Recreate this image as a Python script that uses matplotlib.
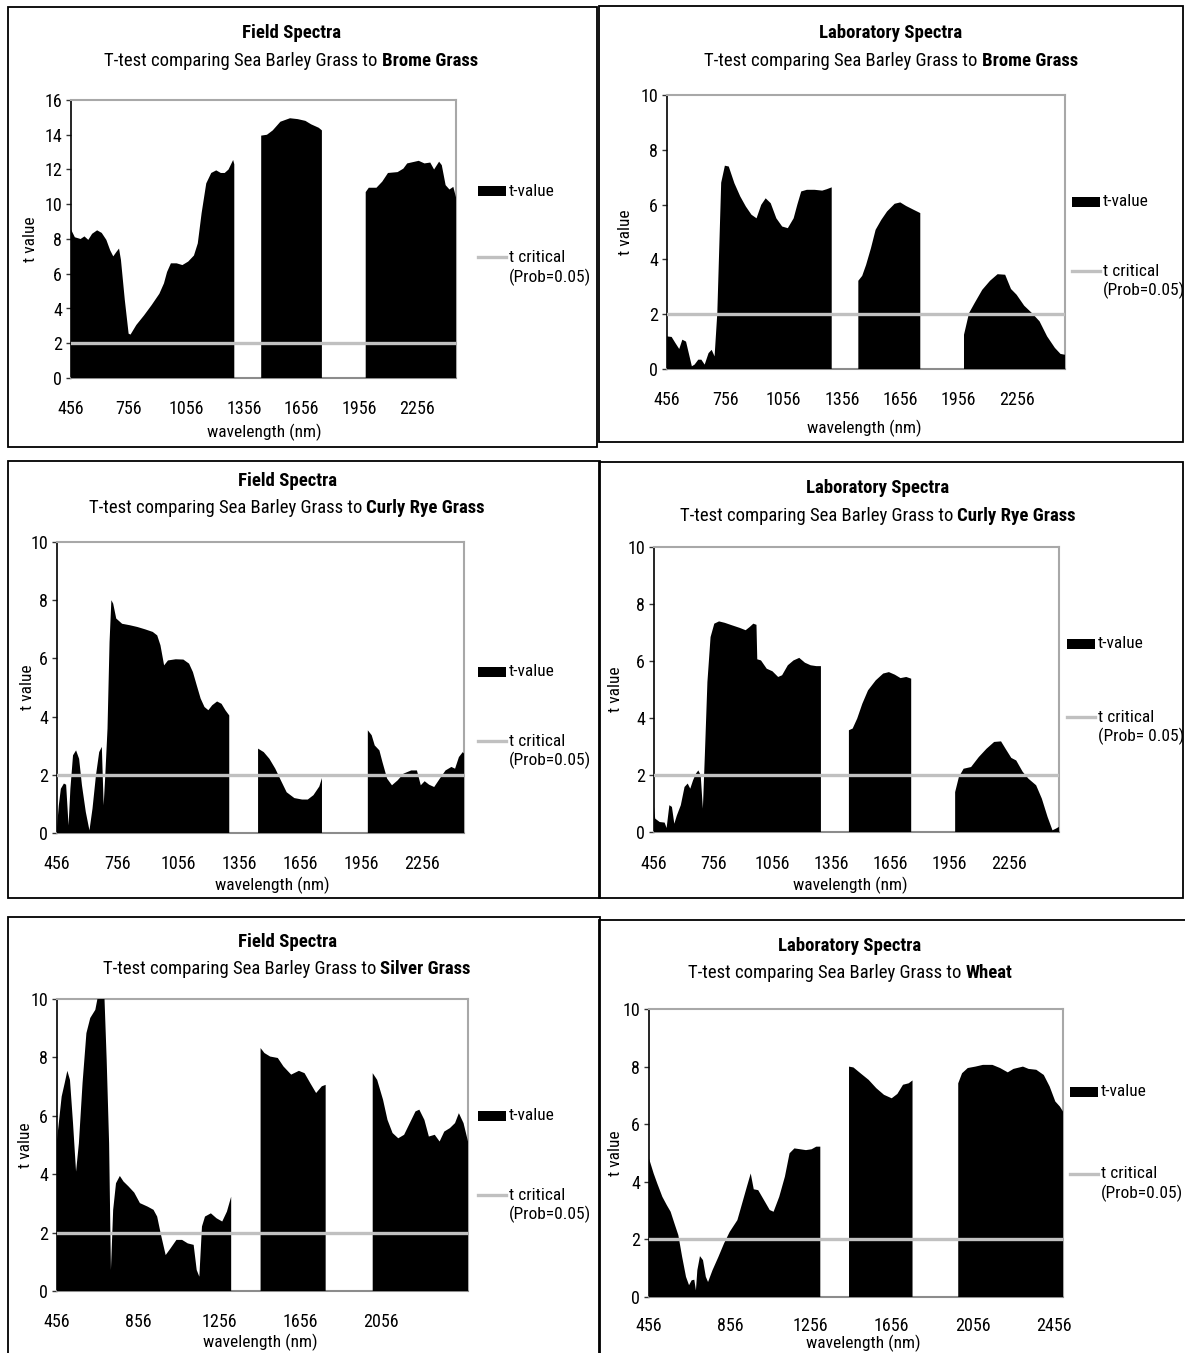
import numpy as np
import matplotlib
matplotlib.use("Agg")
import matplotlib.pyplot as plt
from matplotlib.patches import Rectangle
from matplotlib.lines import Line2D
from matplotlib import font_manager

names = {f.name for f in font_manager.fontManager.ttflist}
fams = [n for n in ['Liberation Sans Narrow', 'DejaVu Sans Condensed', 'Roboto Condensed'] if n in names]
plt.rcParams['font.family'] = fams + ['Liberation Sans', 'DejaVu Sans']

# ---- data: wavelength (nm) and t values, None marks the water-band gaps ----
field_brome_nm = [456, 476, 506, 526, 546, 566, 592, 616, 640, 660, 676, 692, 706, 716, 736, 756, 766, 796,
                  836, 876, 916, 940, 956, 976, 1006, 1036, 1066, 1096, 1116, 1136, 1160, 1186, 1212, 1236,
                  1256, 1276, 1300, 1306, 1376, 1446, 1476, 1506, 1546, 1596, 1636, 1676, 1706, 1746, 1762,
                  1876, 1990, 2006, 2046, 2076, 2106, 2156, 2186, 2206, 2246, 2266, 2296, 2326, 2346, 2372,
                  2386, 2406, 2426, 2446, 2460]
field_brome_t = [8.55, 8.1, 8.0, 8.15, 7.95, 8.3, 8.5, 8.35, 7.95, 7.35, 7.0, 7.25, 7.45, 6.8, 4.5, 2.55, 2.5, 3.05,
                 3.6, 4.2, 4.85, 5.45, 6.1, 6.6, 6.6, 6.5, 6.7, 7.05, 7.75, 9.5, 11.2, 11.8, 11.95, 11.8,
                 11.8, 12.0, 12.55, 12.3, None, 13.95, 14.0, 14.25, 14.75, 14.95, 14.9, 14.8, 14.6, 14.4, 14.25,
                 None, 10.7, 10.95, 10.95, 11.3, 11.8, 11.85, 12.05, 12.35, 12.45, 12.5, 12.35, 12.4, 12.0, 12.45,
                 12.25, 11.1, 10.85, 11.0, 10.4]

lab_brome_nm = [456, 480, 499, 519, 535, 554, 568, 584, 598, 617, 633, 650, 670, 686, 701, 715, 735, 754, 774,
                803, 833, 862, 891, 917, 941, 964, 990, 1019, 1049, 1078, 1108, 1127, 1147, 1176, 1216, 1255,
                1278, 1304, 1372, 1441, 1461, 1481, 1506, 1530, 1559, 1589, 1628, 1657, 1687, 1726, 1760,
                1872, 1985, 2011, 2040, 2079, 2119, 2158, 2197, 2227, 2256, 2295, 2335, 2374, 2413, 2453,
                2482, 2505]
lab_brome_t = [1.19, 1.17, 0.95, 0.73, 1.07, 1.0, 0.58, 0.1, 0.16, 0.34, 0.34, 0.16, 0.58, 0.7, 0.46, 2.04, 6.8,
               7.42, 7.39, 6.78, 6.3, 5.93, 5.63, 5.5, 5.99, 6.23, 6.05, 5.5, 5.2, 5.14, 5.5, 6.0, 6.48, 6.54,
               6.54, 6.51, 6.56, 6.63, None, 3.22, 3.4, 3.8, 4.41, 5.08, 5.44, 5.75, 6.03, 6.08, 5.95, 5.81,
               5.69, None, 1.25, 2.04, 2.41, 2.89, 3.22, 3.46, 3.44, 2.92, 2.71, 2.31, 2.04, 1.74, 1.19, 0.77,
               0.55, 0.52]

field_curly_nm = [456, 465, 475, 490, 501, 513, 522, 535, 550, 565, 579, 598, 616, 631, 648, 664, 677, 686, 694,
                  705, 715, 724, 733, 748, 777, 815, 852, 890, 928, 950, 966, 984, 1003, 1041, 1079, 1107, 1126,
                  1145, 1164, 1183, 1202, 1221, 1245, 1267, 1286, 1305, 1376, 1447, 1475, 1503, 1532, 1560,
                  1588, 1626, 1664, 1692, 1720, 1749, 1762, 1875, 1988, 2007, 2022, 2045, 2060, 2083, 2107,
                  2135, 2164, 2202, 2230, 2249, 2268, 2290, 2315, 2343, 2371, 2400, 2418, 2437, 2456, 2462]
field_curly_t = [0.2, 0.95, 1.52, 1.7, 1.66, 0.26, 1.52, 2.67, 2.84, 2.55, 1.64, 0.72, 0.09, 0.84, 1.98, 2.78, 2.96,
                 0.95, 1.98, 3.59, 6.56, 8.0, 7.88, 7.37, 7.19, 7.14, 7.08, 7.0, 6.91, 6.79, 6.45, 5.76, 5.93,
                 5.97, 5.96, 5.82, 5.53, 5.07, 4.62, 4.33, 4.22, 4.39, 4.52, 4.44, 4.22, 4.04, None, 2.9, 2.78,
                 2.55, 2.21, 1.8, 1.4, 1.2, 1.15, 1.15, 1.3, 1.6, 1.89, None, 3.53, 3.36, 3.01, 2.84, 2.44,
                 1.87, 1.64, 1.81, 2.04, 2.15, 2.15, 1.64, 1.78, 1.66, 1.58, 1.87, 2.15, 2.27, 2.21, 2.61, 2.78,
                 2.73]

lab_curly_nm = [456, 462, 485, 510, 520, 534, 547, 559, 572, 592, 611, 627, 640, 654, 669, 681, 693, 704, 714,
                727, 743, 762, 786, 815, 853, 892, 921, 941, 960, 976, 980, 999, 1028, 1057, 1086, 1106, 1135,
                1164, 1193, 1222, 1251, 1280, 1303, 1374, 1445, 1464, 1487, 1513, 1542, 1581, 1619, 1648,
                1678, 1707, 1736, 1761, 1872, 1984, 2003, 2027, 2065, 2104, 2143, 2182, 2217, 2240, 2269,
                2294, 2327, 2356, 2395, 2424, 2453, 2478, 2496, 2511]
lab_curly_t = [0.88, 0.47, 0.35, 0.33, 0.14, 0.94, 0.88, 0.29, 0.58, 0.94, 1.58, 1.7, 1.52, 1.81, 2.05, 2.16, 1.99,
               0.82, 2.69, 5.26, 6.84, 7.31, 7.39, 7.34, 7.25, 7.16, 7.08, 7.19, 7.31, 7.27, 6.06, 6.02, 5.73,
               5.64, 5.44, 5.5, 5.85, 6.02, 6.11, 5.94, 5.85, 5.82, 5.82, None, 3.57, 3.63, 3.98, 4.5, 4.97,
               5.32, 5.56, 5.61, 5.52, 5.4, 5.44, 5.38, None, 1.4, 1.93, 2.22, 2.28, 2.63, 2.92, 3.16, 3.18,
               2.92, 2.6, 2.51, 2.11, 1.87, 1.64, 1.17, 0.53, 0.06, 0.12, 0.18]

field_silver_nm = [456, 479, 494, 507, 520, 535, 550, 564, 582, 601, 620, 645, 658, 677, 690, 701, 713, 722, 733,
                   747, 766, 784, 809, 837, 865, 903, 932, 950, 969, 992, 1016, 1045, 1073, 1101, 1130, 1145,
                   1158, 1171, 1186, 1215, 1243, 1271, 1294, 1315, 1388, 1460, 1479, 1507, 1545, 1573, 1611,
                   1649, 1677, 1705, 1734, 1762, 1781, 1897, 2013, 2035, 2064, 2086, 2111, 2139, 2168, 2196,
                   2224, 2243, 2268, 2290, 2319, 2343, 2366, 2394, 2419, 2438, 2461, 2483]
field_silver_t = [5.18, 6.66, 7.12, 7.54, 7.23, 5.75, 4.09, 5.06, 7.12, 8.83, 9.35, 9.63, 10.1, 10.07, 10.07, 7.92,
                  5.06, 0.72, 2.78, 3.69, 3.94, 3.75, 3.58, 3.37, 3.01, 2.89, 2.78, 2.55, 1.92, 1.23, 1.46, 1.75,
                  1.75, 1.63, 1.58, 0.72, 0.49, 2.21, 2.55, 2.66, 2.49, 2.38, 2.72, 3.23, None, 8.32, 8.15, 8.03,
                  7.98, 7.69, 7.41, 7.54, 7.46, 7.12, 6.78, 7.01, 7.06, None, 7.46, 7.23, 6.55, 5.86, 5.41, 5.23,
                  5.35, 5.75, 6.15, 6.21, 5.86, 5.29, 5.35, 5.12, 5.46, 5.58, 5.75, 6.09, 5.75, 5.12]

lab_wheat_nm = [456, 479, 497, 522, 544, 563, 582, 601, 620, 639, 654, 667, 680, 688, 695, 708, 723, 737, 748,
                770, 799, 827, 855, 893, 921, 940, 959, 974, 996, 1025, 1053, 1072, 1100, 1128, 1151, 1175,
                1204, 1232, 1260, 1283, 1303, 1374, 1445, 1467, 1505, 1542, 1580, 1618, 1656, 1684, 1712,
                1740, 1759, 1872, 1985, 2004, 2032, 2070, 2107, 2154, 2192, 2230, 2258, 2305, 2333, 2371,
                2408, 2437, 2465, 2488, 2503]
lab_wheat_t = [4.81, 4.29, 3.94, 3.48, 3.19, 2.96, 2.55, 2.15, 1.39, 0.7, 0.41, 0.58, 0.6, 0.23, 0.93, 1.42, 1.28,
               0.7, 0.52, 0.93, 1.39, 1.86, 2.26, 2.67, 3.36, 3.83, 4.29, 3.74, 3.71, 3.36, 3.02, 2.96, 3.48,
               4.18, 4.99, 5.16, 5.13, 5.1, 5.13, 5.22, 5.22, None, 8.0, 7.97, 7.75, 7.54, 7.25, 7.02, 6.9,
               7.05, 7.37, 7.42, 7.52, None, 7.42, 7.77, 7.95, 8.0, 8.06, 8.06, 7.95, 7.8, 7.92, 8.0, 7.92,
               7.89, 7.71, 7.31, 6.79, 6.61, 6.44]

t_critical = 2.0

ticks_300 = [456, 756, 1056, 1356, 1656, 1956, 2256]
ticks_400_field = [456, 856, 1256, 1656, 2056]
ticks_400_lab = [456, 856, 1256, 1656, 2056, 2456]
yticks_16 = [0, 2, 4, 6, 8, 10, 12, 14, 16]
yticks_10 = [0, 2, 4, 6, 8, 10]

# ---- layout in pixels of the 1185x1353 canvas ----
W, H = 1185, 1353


def fx(x):
    return x / W


def fy(y):
    return 1 - y / H


panels = [
    dict(nm=field_brome_nm, t=field_brome_t, title="Field Spectra", species="Brome Grass",
         xticks=ticks_300, yticks=yticks_16, prob="(Prob=0.05)",
         box=(8, 7, 597, 447), cx=291, title_y=33, sub_y=61, ax=(71, 100, 456, 378),
         leg_x=478, val_y=191, crit_y=257, prob_y=277, xtick_y=407, xlabel=(264, 432), ylabel_x=31),
    dict(nm=lab_brome_nm, t=lab_brome_t, title="Laboratory Spectra", species="Brome Grass",
         xticks=ticks_300, yticks=yticks_10, prob="(Prob=0.05)",
         box=(599, 6, 1183, 442), cx=891, title_y=33, sub_y=61, ax=(667, 95, 1065, 369),
         leg_x=1072, val_y=202, crit_y=271, prob_y=290, xtick_y=398, xlabel=(864, 428), ylabel_x=625),
    dict(nm=field_curly_nm, t=field_curly_t, title="Field Spectra", species="Curly Rye Grass",
         xticks=ticks_300, yticks=yticks_10, prob="(Prob=0.05)",
         box=(8, 461, 600, 898), cx=287, title_y=481, sub_y=508, ax=(57, 542, 464, 833),
         leg_x=478, val_y=672, crit_y=741, prob_y=760, xtick_y=862, xlabel=(272, 885), ylabel_x=27),
    dict(nm=lab_curly_nm, t=lab_curly_t, title="Laboratory Spectra", species="Curly Rye Grass",
         xticks=ticks_300, yticks=yticks_10, prob="(Prob= 0.05)",
         box=(599, 462, 1183, 898), cx=878, title_y=488, sub_y=516, ax=(654, 547, 1059, 832),
         leg_x=1067, val_y=644, crit_y=717, prob_y=736, xtick_y=862, xlabel=(850, 885), ylabel_x=616),
    dict(nm=field_silver_nm, t=field_silver_t, title="Field Spectra", species="Silver Grass",
         xticks=ticks_400_field, yticks=yticks_10, prob="(Prob=0.05)",
         box=(8, 917, 600, 1365), cx=287, title_y=942, sub_y=969, ax=(57, 999, 468, 1291),
         leg_x=478, val_y=1116, crit_y=1195, prob_y=1214, xtick_y=1320, xlabel=(260, 1342), ylabel_x=25),
    dict(nm=lab_wheat_nm, t=lab_wheat_t, title="Laboratory Spectra", species="Wheat",
         xticks=ticks_400_lab, yticks=yticks_10, prob="(Prob=0.05)",
         box=(599, 920, 1190, 1365), cx=850, title_y=946, sub_y=973, ax=(649, 1009, 1063, 1297),
         leg_x=1070, val_y=1092, crit_y=1174, prob_y=1193, xtick_y=1324, xlabel=(863, 1343), ylabel_x=616),
]

FS = 12.5        # legend and axis titles
FS_TICK = 13
FS_TITLE = 13.5
CRIT_COLOR = "#c0c0c0"

fig = plt.figure(figsize=(W / 100, H / 100), dpi=100)
fig.patch.set_facecolor("white")
renderer = fig.canvas.get_renderer()

for p in panels:
    # outer frame of each chart
    x0, y0, x1, y1 = p["box"]
    fig.add_artist(Rectangle((fx(x0), fy(y1)), (x1 - x0) / W, (y1 - y0) / H,
                             transform=fig.transFigure, fill=False, edgecolor="black", lw=1.3))

    l, t, r, b = p["ax"]
    ax = fig.add_axes([fx(l), fy(b), (r - l) / W, (b - t) / H])
    nm = np.array(p["nm"], dtype=float)
    tv = np.array(p["t"], dtype=float)
    ax.fill_between(nm, 0, tv, color="black", lw=0, zorder=3)
    ax.axhline(t_critical, color=CRIT_COLOR, lw=2.4, zorder=4)

    ax.set_xlim(nm[0], nm[-1])
    ax.set_ylim(p["yticks"][0], p["yticks"][-1])
    ax.set_xticks(p["xticks"])
    ax.set_xticklabels([str(v) for v in p["xticks"]])
    ax.set_yticks(p["yticks"])
    ax.tick_params(axis="x", length=0, labelsize=FS_TICK, pad=(p["xtick_y"] - b - 7) * 0.72)
    ax.tick_params(axis="y", length=3.5, width=1, labelsize=FS_TICK, pad=3, color="#333333")

    ax.spines["left"].set_color("black")
    ax.spines["left"].set_linewidth(1.2)
    ax.spines["bottom"].set_color("#8c8c8c")
    ax.spines["bottom"].set_linewidth(1.5)
    for s in ("top", "right"):
        ax.spines[s].set_color("#a8a8a8")
        ax.spines[s].set_linewidth(1.5)

    # axis titles
    fig.text(fx(p["xlabel"][0]), fy(p["xlabel"][1]), "wavelength (nm)", ha="center", va="center", fontsize=FS)
    fig.text(fx(p["ylabel_x"]), fy((t + b) / 2), "t value", ha="center", va="center",
             rotation=90, fontsize=FS)

    # chart title and mixed-weight subtitle
    fig.text(fx(p["cx"]), fy(p["title_y"]), p["title"], ha="center", va="center",
             fontsize=FS_TITLE, fontweight="bold")
    t1 = fig.text(0, fy(p["sub_y"]), "T-test comparing Sea Barley Grass to", ha="left", va="center",
                  fontsize=FS_TITLE)
    t2 = fig.text(0, fy(p["sub_y"]), p["species"], ha="left", va="center", fontsize=FS_TITLE, fontweight="bold")
    w1 = t1.get_window_extent(renderer).width
    w2 = t2.get_window_extent(renderer).width
    gap = 4
    start = p["cx"] - (w1 + gap + w2) / 2
    t1.set_x(fx(start))
    t2.set_x(fx(start + w1 + gap))

    # legend
    lx = p["leg_x"]
    fig.add_artist(Rectangle((fx(lx), fy(p["val_y"] + 5)), 28 / W, 10 / H,
                             transform=fig.transFigure, facecolor="black", edgecolor="none"))
    fig.text(fx(lx + 31), fy(p["val_y"]), "t-value", ha="left", va="center", fontsize=FS)
    fig.add_artist(Line2D([fx(lx), fx(lx + 28)], [fy(p["crit_y"]), fy(p["crit_y"])],
                          transform=fig.transFigure, color=CRIT_COLOR, lw=2.4))
    fig.text(fx(lx + 31), fy(p["crit_y"]), "t critical", ha="left", va="center", fontsize=FS)
    fig.text(fx(lx + 31), fy(p["prob_y"]), p["prob"], ha="left", va="center", fontsize=FS)

fig.savefig("out.png", dpi=100)
